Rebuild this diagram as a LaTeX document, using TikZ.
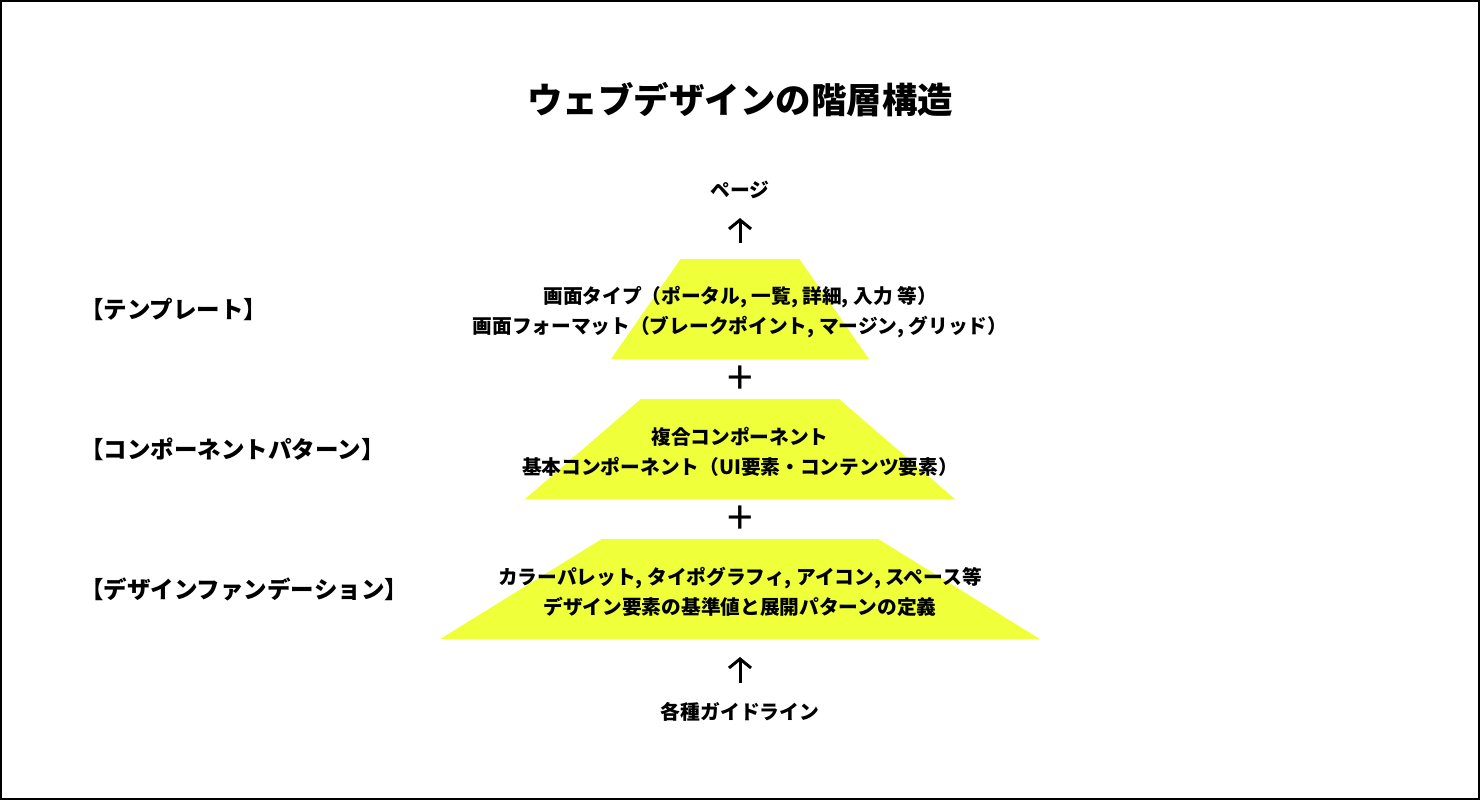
\documentclass[tikz,border=0pt]{standalone}
\usepackage{fontspec}
\setmainfont{Noto Sans CJK JP}
\usepackage{xcolor}
\usetikzlibrary{arrows.meta,shapes.geometric}
\definecolor{layeryellow}{RGB}{239,255,58}

\begin{document}
\begin{tikzpicture}[
  x=1pt, y=-1pt,
  every node/.style={inner sep=0pt},
  font=\fontsize{19.8}{30}\selectfont\bfseries,
  layer/.style={trapezium, trapezium angle=59.7, trapezium stretches=true, fill=layeryellow, minimum height=100pt, inner sep=2pt, outer sep=0pt},
  body/.style={align=center, yshift=-3pt, font=\fontsize{19.7}{30}\selectfont\bfseries},
  side/.style={anchor=west, font=\fontsize{23.5}{23.5}\selectfont\bfseries},
  plusmark/.style={font=\fontsize{46}{46}\selectfont},
  uparrow/.style={-{Straight Barb[length=9pt, width=22pt]}, line width=3pt}
]
\useasboundingbox (0,0) rectangle (1480,800);
\draw[line width=2pt] (1,1) rectangle (1479,799);

\node[font=\fontsize{35.5}{35.5}\selectfont\bfseries] (title) at (740,100) {ウェブデザインの階層構造};

% pyramid layers
\node[layer, minimum width=258pt] (tmpl) at (740,309) {};
\node[layer, minimum width=430pt] (comp) at (740,449) {};
\node[layer, minimum width=600pt] (fdn) at (740,589) {};

\node[body] (tmpltext) at (tmpl.center) {画面タイプ（ポータル, 一覧, 詳細, 入力 等）\\画面フォーマット（ブレークポイント, マージン, グリッド）};
\node[body] (comptext) at (comp.center) {複合コンポーネント\\基本コンポーネント（UI要素・コンテンツ要素）};
\node[body] (fdntext) at (fdn.center) {カラーパレット, タイポグラフィ, アイコン, スペース等\\デザイン要素の基準値と展開パターンの定義};

% left labels
\node[side] (tmpllabel) at (80,309) {【テンプレート】};
\node[side] (complabel) at (80,449) {【コンポーネントパターン】};
\node[side] (fdnlabel) at (80,589) {【デザインファンデーション】};

\node[plusmark] (plusa) at (740,380) {+};
\node[plusmark] (plusb) at (740,520) {+};

\node (page) at (740,190) {ページ};
\node (guide) at (740,712) {各種ガイドライン};

\draw[uparrow, shorten <=16pt, shorten >=19pt] (tmpl.north) -- (page.south);
\draw[uparrow, shorten <=19pt, shorten >=18pt] (guide.north) -- (fdn.south);
\end{tikzpicture}
\end{document}
